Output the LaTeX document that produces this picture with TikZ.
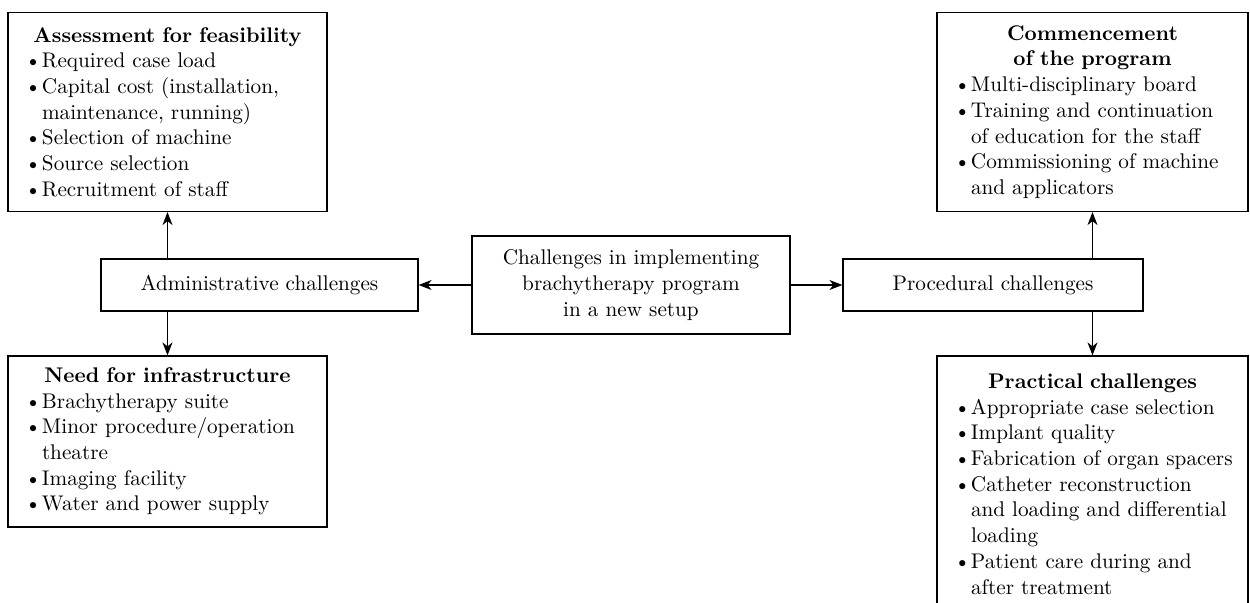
\documentclass[tikz,border=0pt]{standalone}
\usepackage{fontspec}
\usetikzlibrary{arrows.meta}

\tikzset{every picture/.style={line width=0.6pt}}
\tikzset{
  plainbox/.style={draw, rectangle, align=center, inner sep=0pt, font=\fontsize{10.6}{12.9}\selectfont},
  listbox/.style={draw, rectangle, align=left, inner xsep=7pt, inner ysep=0pt, text width=#1, font=\fontsize{10.6}{12.85}\selectfont},
  arr/.style={-{Stealth[length=6.5pt,width=5pt,inset=2pt]}}
}
\newcommand{\boxtitle}[1]{{\centering\bfseries #1\par}}
\newcommand{\bitem}{\hspace*{1.5pt}\makebox[8.5pt][l]{\textbullet}}
\newcommand{\bcont}{\hspace*{10pt}}

\begin{document}
\begin{tikzpicture}[x=0.5pt,y=-0.5pt]
	\useasboundingbox (0,0) rectangle (1250,603);

	%Shape: Rectangle [centre]
	\node [plainbox, minimum width=159pt, minimum height=49pt] (centre) at (631,285) {Challenges in implementing\\brachytherapy program\\in a new setup};
	%Shape: Rectangle [admin]
	\node [plainbox, minimum width=158.5pt, minimum height=26pt] (admin) at (259.5,285) {Administrative challenges};
	%Shape: Rectangle [proc]
	\node [plainbox, minimum width=150pt, minimum height=26pt] (proc) at (993,285) {Procedural challenges};

	%Shape: Rectangle [feas]
	\node [listbox=145.5pt, minimum height=99.5pt] (feas) at (167.5,112) {\boxtitle{Assessment for feasibility}%
		\bitem Required case load\\
		\bitem Capital cost (installation,\\
		\bcont maintenance, running)\\
		\bitem Selection of machine\\
		\bitem Source selection\\
		\bitem Recruitment of staff};
	%Shape: Rectangle [infra]
	\node [listbox=145.5pt, minimum height=85.5pt] (infra) at (167.5,441.5) {\boxtitle{Need for infrastructure}%
		\bitem Brachytherapy suite\\
		\bitem Minor procedure/operation\\
		\bcont theatre\\
		\bitem Imaging facility\\
		\bitem Water and power supply};
	%Shape: Rectangle [commence]
	\node [listbox=141.5pt, minimum height=99.5pt] (commence) at (1092.5,112) {\boxtitle{Commencement\\of the program}%
		\bitem Multi-disciplinary board\\
		\bitem Training and continuation\\
		\bcont of education for the staff\\
		\bitem Commissioning of machine\\
		\bcont and applicators};
	%Shape: Rectangle [practical]
	\node [listbox=141.5pt, minimum height=128pt] (practical) at (1092.5,484) {\boxtitle{Practical challenges}%
		\bitem Appropriate case selection\\
		\bitem Implant quality\\
		\bitem Fabrication of organ spacers\\
		\bitem Catheter reconstruction\\
		\bcont and loading and differential\\
		\bcont loading\\
		\bitem Patient care during and\\
		\bcont after treatment};

	%Straight Lines
	\draw [arr] (centre) -- (admin);
	\draw [arr] (centre) -- (proc);
	\draw [arr] (feas.south |- admin.north) -- (feas.south);
	\draw [arr] (infra.north |- admin.south) -- (infra.north);
	\draw [arr] (commence.south |- proc.north) -- (commence.south);
	\draw [arr] (practical.north |- proc.south) -- (practical.north);

\end{tikzpicture}
\end{document}
